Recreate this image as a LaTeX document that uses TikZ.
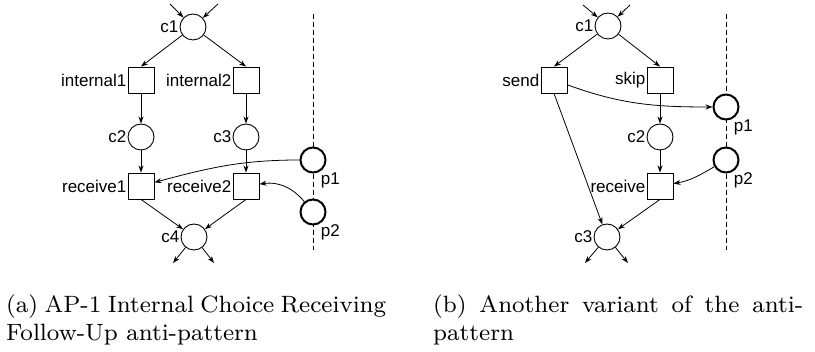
\documentclass[tikz,border=0pt]{standalone}
\usepackage{fontspec}
\setsansfont{Liberation Sans}
\newfontfamily\capfont{lmroman8-regular}[Extension=.otf]
\usetikzlibrary{positioning, arrows.meta}

\tikzset{
  place/.style={circle, draw, fill=white, line width=0.9pt, minimum size=26pt, inner sep=0pt},
  chanplace/.style={place, line width=2pt, minimum size=25pt},
  trans/.style={rectangle, draw, fill=white, line width=0.9pt, minimum size=26pt, inner sep=0pt},
  every label/.style={inner sep=1pt},
  arc/.style={-{Stealth[length=7pt,width=5pt]}, line width=0.8pt},
  bound/.style={dash pattern=on 5pt off 3pt, line width=0.8pt},
  subcap/.style={align=justify, inner sep=0pt, anchor=base west,
    font=\capfont\fontsize{23.6}{28}\selectfont},
}

\begin{document}
\begin{tikzpicture}[x=1pt, y=1pt, font=\sffamily\fontsize{17}{20}\selectfont]
  \useasboundingbox (0,0) rectangle (815,352);

  % (a) internal choice, then receive
  \coordinate (topa) at (313,338);
  \coordinate (bota) at (313,102);
  \draw[bound] (topa) -- (bota);

  \node[place, label={left:c1}] (c1) at (193,325) {};
  \node[trans, label={left:internal1}] (int1) at (141,272) {};
  \node[trans, label={left:internal2}] (int2) at (246,272) {};
  \node[place, label={left:c2}] (c2) at (141,215) {};
  \node[place, label={left:c3}] (c3) at (246,215) {};
  \node[trans, label={left:receive1}] (rec1) at (141,166) {};
  \node[trans, label={left:receive2}] (rec2) at (246,166) {};
  \node[place, label={left:c4}] (c4) at (194,115) {};
  \node[chanplace, label={[anchor=north west]-60:p1}] (p1) at (313,192) {};
  \node[chanplace, label={[anchor=north west]-60:p2}] (p2) at (313,140) {};

  \coordinate (ina1) at (170,348);
  \coordinate (ina2) at (218,348);
  \coordinate (outa1) at (173,89);
  \coordinate (outa2) at (214,89);

  \draw[arc] (ina1) -- (c1);
  \draw[arc] (ina2) -- (c1);
  \draw[arc] (c1) -- (int1.north);
  \draw[arc] (c1) -- (int2.north);
  \draw[arc] (int1) -- (c2);
  \draw[arc] (int2) -- (c3);
  \draw[arc] (c2) -- (rec1);
  \draw[arc] (c3) -- (rec2);
  \draw[arc] (rec1.south) -- (c4);
  \draw[arc] (rec2.south) -- (c4);
  \draw[arc] (c4) -- (outa1);
  \draw[arc] (c4) -- (outa2);
  \draw[arc] (p1) to[out=180, in=15] (rec1);
  \draw[arc] (p2) to[out=130, in=8] (rec2);

  % (b) send or skip, then receive
  \coordinate (topb) at (726,338);
  \coordinate (botb) at (726,102);
  \draw[bound] (topb) -- (botb);

  \node[place, label={left:c1}] (d1) at (608,326) {};
  \node[trans, label={left:send}] (send) at (554,272) {};
  \node[trans, label={left:skip}] (skip) at (660,272) {};
  \node[place, label={left:c2}] (d2) at (660,215) {};
  \node[trans, label={left:receive}] (rec) at (660,166) {};
  \node[place, label={left:c3}] (d3) at (607,115) {};
  \node[chanplace, label={[anchor=north west]-60:p1}] (q1) at (726,245) {};
  \node[chanplace, label={[anchor=north west]-60:p2}] (q2) at (726,192) {};

  \coordinate (inb1) at (583,347);
  \coordinate (inb2) at (630,347);
  \coordinate (outb1) at (585,89);
  \coordinate (outb2) at (628,89);

  \draw[arc] (inb1) -- (d1);
  \draw[arc] (inb2) -- (d1);
  \draw[arc] (d1) -- (send.north);
  \draw[arc] (d1) -- (skip.north);
  \draw[arc] (skip) -- (d2);
  \draw[arc] (d2) -- (rec);
  \draw[arc] (rec.south) -- (d3);
  \draw[arc] (send.south) -- (d3);
  \draw[arc] (d3) -- (outb1);
  \draw[arc] (d3) -- (outb2);
  \draw[arc] (send) to[out=-20, in=180] (q1);
  \draw[arc] (q2) to[out=-150, in=10] (rec);

  % captions
  \node[subcap, text width=380pt] (capa) at (6,39) {(a) AP-1 Internal Choice Receiving Follow-Up anti-pattern};
  \node[subcap, text width=370pt] (capb) at (433,39) {(b) Another variant of the anti-pattern};
\end{tikzpicture}
\end{document}
